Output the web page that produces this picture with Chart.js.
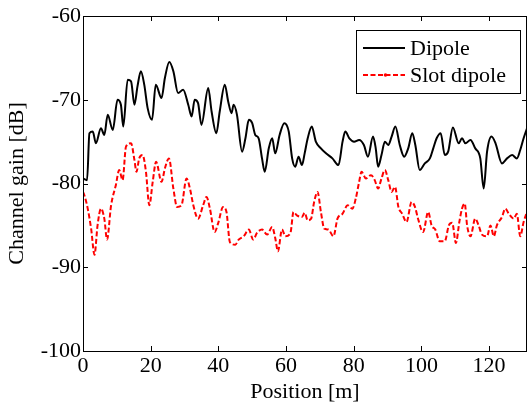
<!DOCTYPE html>
<html><head><meta charset="utf-8">
<script src="https://cdn.jsdelivr.net/npm/chart.js@4.4.0/dist/chart.umd.min.js"></script>
<style>html,body{margin:0;padding:0;background:#fff;}</style>
</head><body>
<canvas id="c" width="529" height="407" style="width:529px;height:407px;display:block"></canvas>
<script>
const seriesNames = ["Dipole", "Slot dipole"];
const dipoleX = [0,1.2,1.9,2.9,3.8,5.3,6.3,7.3,8.8,10.2,11.2,11.9,13.2,14.2,15.2,16.1,17.1,18.1,19.1,20.4,21.5,23.2,24.2,25.5,26.7,28.1,29.6,31.1,32.1,33.0,34.0,35.0,37.0,38.0,39.4,40.4,41.9,42.9,43.9,44.5,45.5,47.0,48.0,49.0,50.0,50.9,51.9,52.9,53.7,54.9,55.9,56.8,58.1,59.5,60.8,61.8,62.7,63.7,64.7,65.5,66.4,67.6,68.8,70.3,71.8,73.7,75.5,76.7,77.5,78.7,80.1,81.6,83.0,84.2,85.7,86.5,87.2,88.2,89.2,90.2,91.2,92.3,93.6,94.9,96.1,97.3,98.2,99.5,101.0,102.5,103.5,104.5,105.7,106.9,107.9,109.3,111.0,112.0,113.0,114.5,115.9,117.4,118.4,119.4,120.7,121.9,123.8,125.3,126.8,128.2,129.2,130.2,131.2];
const dipoleY = [-79.4,-79.6,-74.0,-73.8,-75.2,-73.4,-74.2,-71.8,-73.6,-70.0,-70.6,-73.2,-67.6,-67.8,-70.6,-68.4,-66.6,-68.2,-71.0,-72.4,-68.2,-69.8,-67.4,-65.5,-66.6,-69.2,-68.8,-70.6,-72.0,-70.0,-70.4,-73.0,-68.6,-71.4,-74.0,-71.4,-68.2,-70.2,-71.6,-70.6,-71.8,-76.2,-74.6,-72.4,-72.8,-74.2,-74.6,-77.0,-78.6,-75.8,-74.6,-76.4,-74.2,-72.8,-73.8,-77.0,-78.0,-76.8,-77.8,-76.4,-74.6,-73.2,-75.0,-75.8,-76.4,-77.0,-77.8,-75.0,-73.8,-74.6,-75.0,-74.8,-75.4,-76.8,-74.4,-75.8,-78.0,-76.6,-75.0,-75.4,-74.4,-73.2,-75.4,-76.8,-75.8,-74.0,-75.4,-78.4,-77.6,-77.0,-75.8,-74.6,-74.0,-76.6,-76.2,-73.3,-75.2,-74.6,-75.2,-74.8,-75.8,-77.0,-80.6,-76.2,-74.4,-75.2,-77.6,-77.0,-76.6,-77.0,-76.0,-74.6,-73.4];
const slotX = [0,0.4,1.4,2.4,3.4,4.3,5.3,6.3,7.1,8.3,9.7,10.7,11.7,12.7,14.2,15.2,15.8,16.6,17.6,18.6,19.6,20.6,21.6,23.2,24.2,25.4,26.7,27.8,29.1,30.6,31.6,32.6,34.0,35.5,36.5,37.5,38.9,39.9,41.4,42.4,43.4,45.0,46.0,47.5,49.0,50.3,51.4,52.9,54.4,55.9,56.8,57.6,58.8,59.8,61.3,62.2,63.2,64.7,65.5,66.4,67.4,68.3,69.3,70.3,71.3,72.5,74.0,75.2,76.7,78.2,79.6,80.6,81.6,82.3,83.6,85.1,86.2,87.2,88.2,89.2,90.2,91.2,92.2,93.2,94.3,95.6,97.1,98.1,99.0,100.5,102.0,103.0,104.1,105.4,106.9,108.1,109.1,110.2,111.2,112.0,112.8,113.5,114.5,115.9,116.9,117.9,119.4,120.4,121.4,122.3,123.8,124.8,125.8,127.3,128.2,129.2,130.2,131.2];
const slotY = [-81.0,-81.4,-83.0,-85.4,-88.5,-85.0,-83.0,-84.2,-86.7,-82.6,-80.2,-78.4,-79.6,-75.6,-75.2,-77.2,-78.6,-77.0,-76.6,-78.6,-82.6,-79.8,-77.4,-79.8,-78.2,-77.0,-80.6,-82.8,-82.6,-79.4,-80.6,-82.6,-84.2,-82.6,-81.6,-83.0,-85.8,-84.8,-82.8,-83.4,-87.0,-87.3,-86.7,-86.3,-85.5,-86.7,-85.9,-85.5,-86.1,-85.2,-86.5,-88.1,-85.5,-86.3,-85.9,-83.4,-83.8,-84.0,-83.5,-84.4,-84.2,-82.2,-81.0,-83.4,-85.4,-85.5,-86.3,-84.2,-83.6,-82.6,-83.0,-81.8,-79.8,-78.6,-79.4,-79.0,-79.6,-80.6,-79.4,-78.4,-79.6,-81.0,-80.4,-82.8,-83.6,-84.6,-82.2,-82.8,-84.2,-85.8,-83.4,-85.0,-85.5,-86.9,-86.9,-85.0,-84.7,-87.1,-84.6,-83.0,-82.4,-85.0,-86.3,-84.2,-85.0,-86.1,-86.3,-85.0,-86.3,-85.0,-84.0,-83.0,-83.6,-84.2,-83.6,-86.3,-84.6,-83.4];
const xTickValues = [0,20,40,60,80,100,120];
const yTickValues = [-100,-90,-80,-70,-60];
const xTitle = "Position [m]";
const yTitle = "Channel gain [dB]";

const FONT = "'Liberation Serif', 'Times New Roman', serif";
const toPts = (xs, ys) => xs.map((x, i) => ({x: x, y: ys[i]}));

const frameAndTicks = {
  id: 'frameAndTicks',
  afterDraw(chart) {
    const ctx = chart.ctx, a = chart.chartArea;
    const xs = chart.scales.x, ys = chart.scales.y;
    ctx.save();
    ctx.strokeStyle = '#000';
    ctx.lineWidth = 1;
    ctx.strokeRect(Math.round(a.left) + 0.5, Math.round(a.top) + 0.5, Math.round(a.right - a.left) - 1, Math.round(a.bottom - a.top));
    const L = 5;
    ctx.beginPath();
    xTickValues.forEach(v => {
      const px = Math.round(xs.getPixelForValue(v)) + 0.5;
      ctx.moveTo(px, a.bottom); ctx.lineTo(px, a.bottom - L);
      ctx.moveTo(px, a.top); ctx.lineTo(px, a.top + L);
    });
    yTickValues.forEach(v => {
      const py = Math.round(ys.getPixelForValue(v)) + 0.5;
      ctx.moveTo(a.left, py); ctx.lineTo(a.left + L, py);
      ctx.moveTo(a.right, py); ctx.lineTo(a.right - L, py);
    });
    ctx.stroke();
    // legend box
    const bx = 356.5, by = 30.5, bw = 164, bh = 63;
    ctx.fillStyle = '#fff';
    ctx.fillRect(bx, by, bw, bh);
    ctx.strokeRect(bx, by, bw, bh);
    const dss = chart.data.datasets;
    const rows = [48, 75];
    ctx.font = "22px " + FONT;
    ctx.textBaseline = 'middle';
    ctx.textAlign = 'left';
    dss.forEach((ds, i) => {
      ctx.beginPath();
      ctx.strokeStyle = ds.borderColor;
      ctx.lineWidth = ds.borderWidth;
      ctx.setLineDash(ds.borderDash || []);
      ctx.moveTo(363, rows[i]); ctx.lineTo(405, rows[i]);
      ctx.stroke();
      ctx.setLineDash([]);
      if (ds.borderDash) {
        ctx.fillStyle = ds.borderColor;
        ctx.beginPath(); ctx.arc(385.5, rows[i], 1.8, 0, Math.PI * 2); ctx.fill();
      }
      ctx.fillStyle = '#000';
      ctx.fillText(ds.label, 410, rows[i] + 1);
    });
    ctx.restore();
  }
};

new Chart(document.getElementById('c'), {
  type: 'line',
  data: {
    datasets: [
      {label: seriesNames[0], data: toPts(dipoleX, dipoleY), borderColor: '#000000', borderWidth: 2, pointRadius: 0, cubicInterpolationMode: 'monotone', fill: false},
      {label: seriesNames[1], data: toPts(slotX, slotY), borderColor: '#ff0000', borderWidth: 2, borderDash: [5, 2.5], pointRadius: 0, cubicInterpolationMode: 'monotone', fill: false}
    ]
  },
  options: {
    responsive: false,
    devicePixelRatio: 1,
    animation: false,
    layout: {padding: {top: 16, right: 2, left: 0, bottom: 0}},
    plugins: {legend: {display: false}, tooltip: {enabled: false}},
    scales: {
      x: {
        type: 'linear', min: 0, max: 131.2,
        grid: {display: false, drawTicks: false},
        border: {display: false},
        afterBuildTicks: s => { s.ticks = xTickValues.map(v => ({value: v})); },
        afterFit: s => { s.height = 56; },
        ticks: {color: '#000', font: {family: FONT, size: 22}, padding: 2, maxRotation: 0, autoSkip: false},
        title: {display: true, text: xTitle, color: '#000', font: {family: FONT, size: 22}, padding: {top: 0, bottom: 2}}
      },
      y: {
        type: 'linear', min: -100, max: -60,
        grid: {display: false, drawTicks: false},
        border: {display: false},
        afterBuildTicks: s => { s.ticks = yTickValues.map(v => ({value: v})); },
        afterFit: s => { s.width = 83; },
        ticks: {color: '#000', font: {family: FONT, size: 22}, padding: 2, autoSkip: false, callback: v => String(v)},
        title: {display: true, text: yTitle, color: '#000', font: {family: FONT, size: 22}, padding: {top: 4, bottom: 0}}
      }
    }
  },
  plugins: [frameAndTicks]
});
</script>
</body></html>
